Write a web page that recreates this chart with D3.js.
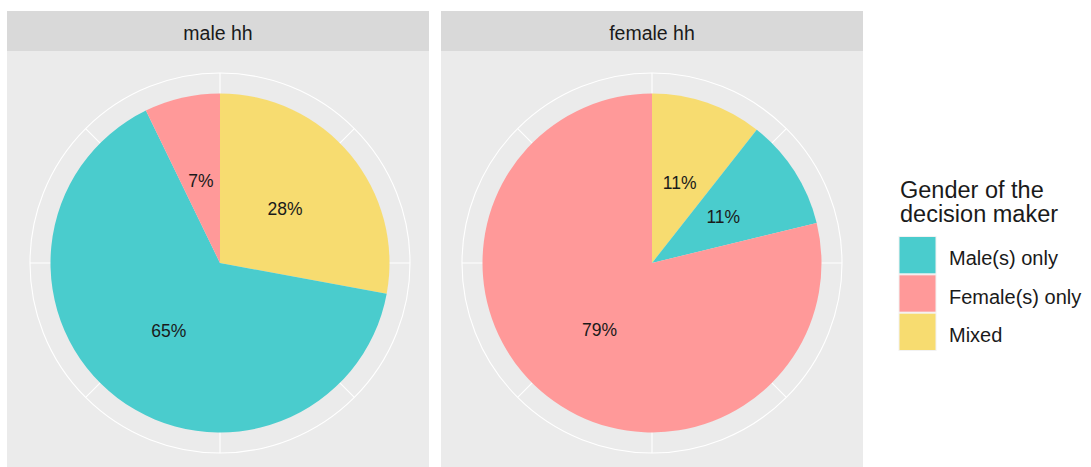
<!DOCTYPE html>
<html>
<head>
<meta charset="utf-8">
<script src="https://cdnjs.cloudflare.com/ajax/libs/d3/7.8.5/d3.min.js"></script>
<style>
  body { margin: 0; background: #fff; }
  text { font-family: "Liberation Sans", Arial, sans-serif; fill: #1a1a1a; }
</style>
</head>
<body>
<svg id="chart" width="1091" height="467"></svg>
<script>
// facets and categories (legend order)
var facets = ["male hh", "female hh"];
var categories = ["Male(s) only", "Female(s) only", "Mixed"];
var catColors = ["#4ACCCD", "#FF9999", "#F7DC70"];

// percent shares per facet, same order as categories
var maleShares = [64.9, 7.2, 27.9];
var femaleShares = [10.6, 78.8, 10.6];
var shares = [maleShares, femaleShares];

// stacking order clockwise from 12 o'clock
var stackOrder = ["Mixed", "Male(s) only", "Female(s) only"];

// theta grid breaks (in percent)
var thetaBreaks = [0, 12.5, 25, 37.5, 50, 62.5, 75, 87.5];

var svg = d3.select("#chart");

var panelX = [7, 441], panelW = 422;
var stripTop = 11, stripH = 40, panelBottom = 467;
var cx = [220, 652], cy = 263;
var pieR = 169.5, gridR = 190;

var color = d3.scaleOrdinal().domain(categories).range(catColors);
var theta = d3.scaleLinear().domain([0, 100]).range([0, 2 * Math.PI]);

var pie = d3.pie().sort(null).value(function(d){ return d.value; });
var arc = d3.arc().innerRadius(0).outerRadius(pieR);

facets.forEach(function(name, i){
    var g = svg.append("g");

    // strip
    g.append("rect")
      .attr("x", panelX[i]).attr("y", stripTop)
      .attr("width", panelW).attr("height", stripH)
      .attr("fill", "#D9D9D9");
    g.append("text")
      .attr("x", panelX[i] + panelW / 2).attr("y", stripTop + 29)
      .attr("text-anchor", "middle")
      .style("font-size", "19.5px")
      .text(name);

    // panel background
    g.append("rect")
      .attr("x", panelX[i]).attr("y", stripTop + stripH)
      .attr("width", panelW).attr("height", panelBottom - stripTop - stripH)
      .attr("fill", "#EBEBEB");

    var p = g.append("g").attr("transform", "translate(" + cx[i] + "," + cy + ")");

    // grid
    p.append("circle").attr("r", gridR)
      .attr("fill", "none").attr("stroke", "#fff").attr("stroke-width", 1.1);
    p.selectAll(".spoke").data(thetaBreaks).enter().append("line")
      .attr("class", "spoke")
      .attr("x1", 0).attr("y1", 0)
      .attr("x2", function(d){ return gridR * Math.sin(theta(d)); })
      .attr("y2", function(d){ return -gridR * Math.cos(theta(d)); })
      .attr("stroke", "#fff").attr("stroke-width", 1.1);

    var rows = stackOrder.map(function(c){
        return { cat: c, value: shares[i][categories.indexOf(c)] };
    });
    var arcs = pie(rows);

    p.selectAll(".slice").data(arcs).enter().append("path")
      .attr("class", "slice")
      .attr("d", arc)
      .attr("fill", function(d){ return color(d.data.cat); });

    p.selectAll(".lbl").data(arcs).enter().append("text")
      .attr("class", "lbl")
      .attr("transform", function(d){ return "translate(" + arc.centroid(d) + ")"; })
      .attr("text-anchor", "middle")
      .attr("dy", "0.36em")
      .style("font-size", "17.5px")
      .text(function(d){ return Math.round(d.data.value) + "%"; });
});

// legend
var lg = svg.append("g");
lg.append("text").attr("x", 900).attr("y", 198).style("font-size", "23.5px").text("Gender of the");
lg.append("text").attr("x", 900).attr("y", 222).style("font-size", "23.5px").text("decision maker");

var keyY = d3.scaleBand().domain(categories).range([236, 351]);
var item = lg.selectAll(".key").data(categories).enter().append("g").attr("class", "key");
item.append("rect")
  .attr("x", 899).attr("y", function(d){ return keyY(d) + 0.5; })
  .attr("width", 37).attr("height", keyY.bandwidth() - 1)
  .attr("fill", function(d){ return color(d); })
  .attr("stroke", "#F2F2F2").attr("stroke-width", 1);
item.append("text")
  .attr("x", 949)
  .attr("y", function(d){ return keyY(d) + keyY.bandwidth() / 2 + 10; })
  .style("font-size", "20px")
  .text(function(d){ return d; });
</script>
</body>
</html>
